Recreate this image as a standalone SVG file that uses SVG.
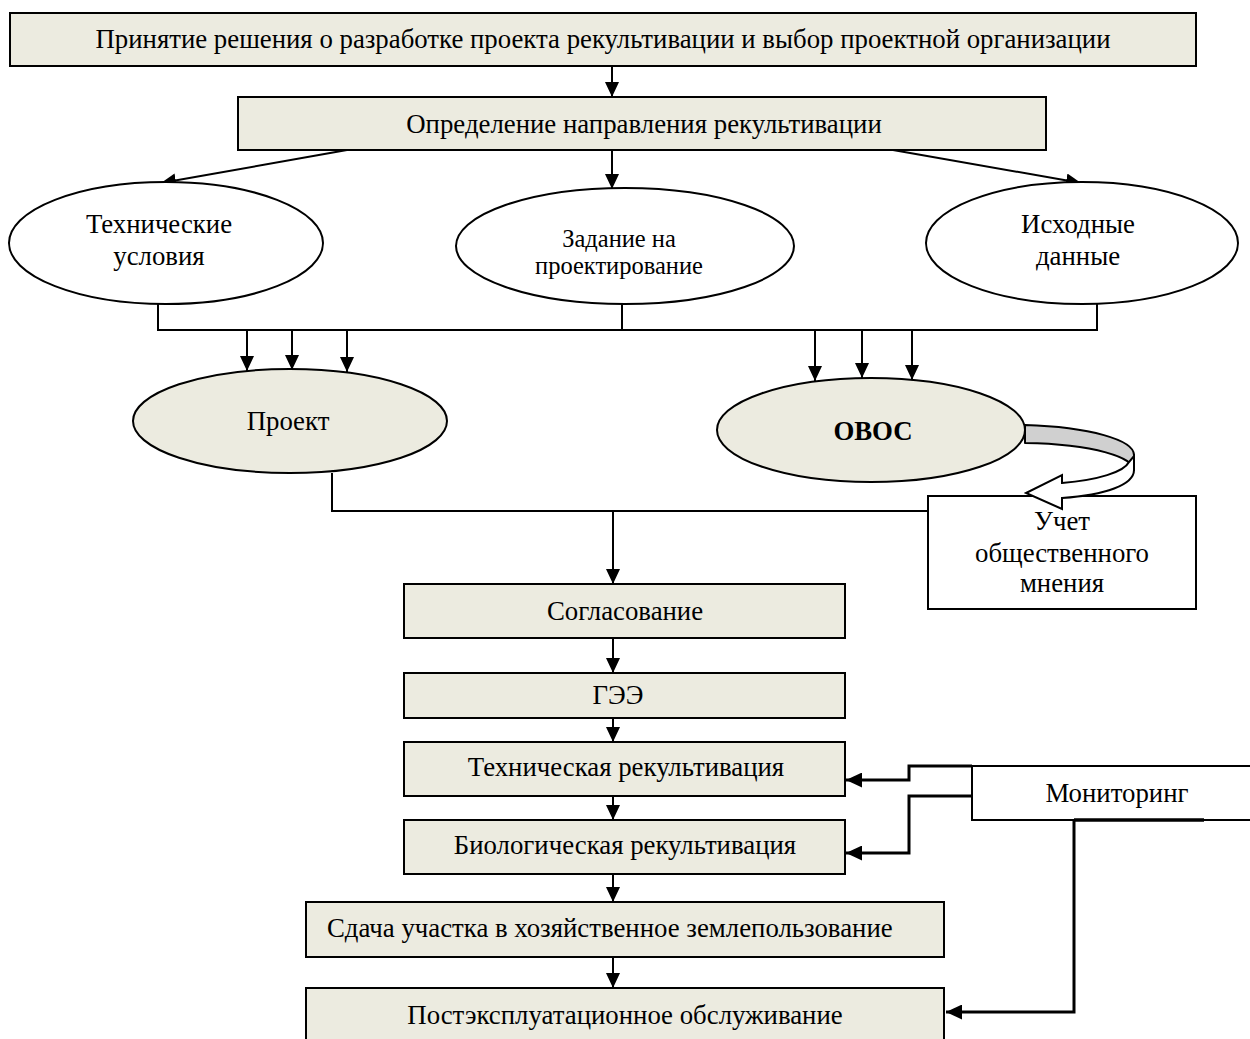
<svg xmlns="http://www.w3.org/2000/svg" width="1250" height="1039" viewBox="0 0 1250 1039">
<style>
.box{fill:#ECEBE0;stroke:#000;stroke-width:2}
.ell{fill:#fff;stroke:#000;stroke-width:2}
.ellf{fill:#ECEBE0;stroke:#000;stroke-width:2}
.wbox{fill:#fff;stroke:#000;stroke-width:2}
.t{font-family:"Liberation Serif","Times New Roman",serif;font-size:26.8px;fill:#000;text-anchor:middle}
.ts{font-size:24.5px}
.b{font-weight:bold}
.ln{fill:none;stroke:#000;stroke-width:2}
.arr{fill:none;stroke:#000;stroke-width:2;marker-end:url(#ah)}
.marr{fill:none;stroke:#000;stroke-width:3;marker-end:url(#ahm)}
</style>
<defs>
<marker id="ah" viewBox="0 0 15 14" refX="15" refY="7" markerWidth="15" markerHeight="14" markerUnits="userSpaceOnUse" orient="auto">
<path d="M0,0 L15,7 L0,14 Z" fill="#000"/>
</marker>
<marker id="ahm" viewBox="0 0 16 15" refX="16" refY="7.5" markerWidth="16" markerHeight="15" markerUnits="userSpaceOnUse" orient="auto">
<path d="M0,0 L16,7.5 L0,15 Z" fill="#000"/>
</marker>
</defs>
<rect width="1250" height="1039" fill="#fff"/>

<g id="connectors">
<line class="arr" x1="612" y1="66" x2="612" y2="97"/>
<line class="arr" x1="347" y1="150" x2="161" y2="183"/>
<line class="arr" x1="612" y1="150" x2="612" y2="189"/>
<line class="arr" x1="893" y1="150" x2="1081" y2="183"/>
<polyline class="ln" points="158,304 158,330 1097,330 1097,304"/>
<line class="ln" x1="622" y1="304" x2="622" y2="330"/>
<line class="arr" x1="247" y1="330" x2="247" y2="371"/>
<line class="arr" x1="292" y1="330" x2="292" y2="370"/>
<line class="arr" x1="347" y1="330" x2="347" y2="372"/>
<line class="arr" x1="815" y1="330" x2="815" y2="381"/>
<line class="arr" x1="862" y1="330" x2="862" y2="378"/>
<line class="arr" x1="912" y1="330" x2="912" y2="380"/>
<polyline class="ln" points="332,473 332,511 928,511"/>
<line class="arr" x1="613" y1="511" x2="613" y2="584"/>
<line class="arr" x1="613" y1="638" x2="613" y2="673"/>
<line class="arr" x1="613" y1="718" x2="613" y2="742"/>
<line class="arr" x1="613" y1="796" x2="613" y2="820"/>
<line class="arr" x1="613" y1="874" x2="613" y2="902"/>
<line class="arr" x1="613" y1="957" x2="613" y2="988"/>
<polyline class="marr" points="972,766 909,766 909,780 846,780"/>
<polyline class="marr" points="972,796 909,796 909,853 846,853"/>
<polyline class="marr" points="1074,820 1074,1012 946,1012"/>
</g>

<g id="n1"><rect class="box" x="10" y="13" width="1186" height="53"/>
<text class="t" x="603" y="48">Принятие решения о разработке проекта рекультивации и выбор проектной организации</text></g>

<g id="n2"><rect class="box" x="238" y="97" width="808" height="53"/>
<text class="t" x="644" y="133">Определение направления рекультивации</text></g>

<g id="n3"><ellipse class="ell" cx="166" cy="243" rx="157" ry="61"/>
<text class="t" x="159" y="233">Технические</text><text class="t" x="159" y="265">условия</text></g>

<g id="n4"><ellipse class="ell" cx="625" cy="246" rx="169" ry="58"/>
<text class="t ts" x="619" y="247">Задание на</text><text class="t ts" x="619" y="274">проектирование</text></g>

<g id="n5"><ellipse class="ell" cx="1082" cy="243" rx="156" ry="61"/>
<text class="t" x="1078" y="233">Исходные</text><text class="t" x="1078" y="265">данные</text></g>

<g id="n6"><ellipse class="ellf" cx="290" cy="421" rx="157" ry="52"/>
<text class="t" x="288" y="430">Проект</text></g>

<g id="n7"><ellipse class="ellf" cx="871" cy="430" rx="154" ry="52"/>
<text class="t b" x="873" y="440">ОВОС</text></g>

<g id="n8"><rect class="wbox" x="928" y="496" width="268" height="113"/>
<text class="t" x="1062" y="530">Учет</text><text class="t" x="1062" y="562">общественного</text><text class="t" x="1062" y="592">мнения</text></g>

<g id="n7arrow">
<path d="M1025,425 C1090,427 1134,440 1134,455 L1134,470 C1134,458 1095,444 1025,443 Z" fill="#D0D0D0" stroke="#000" stroke-width="2" stroke-linejoin="round"/>
<path d="M1134,456 L1134,470 C1134,485 1105,495 1062,498 L1062,509 L1026,493 L1062,475 L1062,483 C1098,480 1124,472 1129,462 Z" fill="#fff" stroke="#000" stroke-width="2" stroke-linejoin="miter"/>
</g>

<g id="n9"><rect class="box" x="404" y="584" width="441" height="54"/>
<text class="t" x="625" y="620">Согласование</text></g>

<g id="n10"><rect class="box" x="404" y="673" width="441" height="45"/>
<text class="t" x="618" y="704">ГЭЭ</text></g>

<g id="n11"><rect class="box" x="404" y="742" width="441" height="54"/>
<text class="t" x="626" y="776">Техническая рекультивация</text></g>

<g id="n12"><rect class="box" x="404" y="820" width="441" height="54"/>
<text class="t" x="625" y="854">Биологическая рекультивация</text></g>

<g id="n13"><rect class="box" x="306" y="902" width="638" height="55"/>
<text class="t" x="327" y="937" style="text-anchor:start">Сдача участка в хозяйственное землепользование</text></g>

<g id="n14"><rect class="box" x="306" y="988" width="638" height="60"/>
<text class="t" x="625" y="1024">Постэксплуатационное обслуживание</text></g>

<g id="n15"><polyline class="ln" points="1252,766 972,766 972,820 1252,820"/>
<line x1="1074" y1="820" x2="1204" y2="820" stroke="#000" stroke-width="3.5"/>
<text class="t" x="1117" y="802">Мониторинг</text></g>
</svg>
